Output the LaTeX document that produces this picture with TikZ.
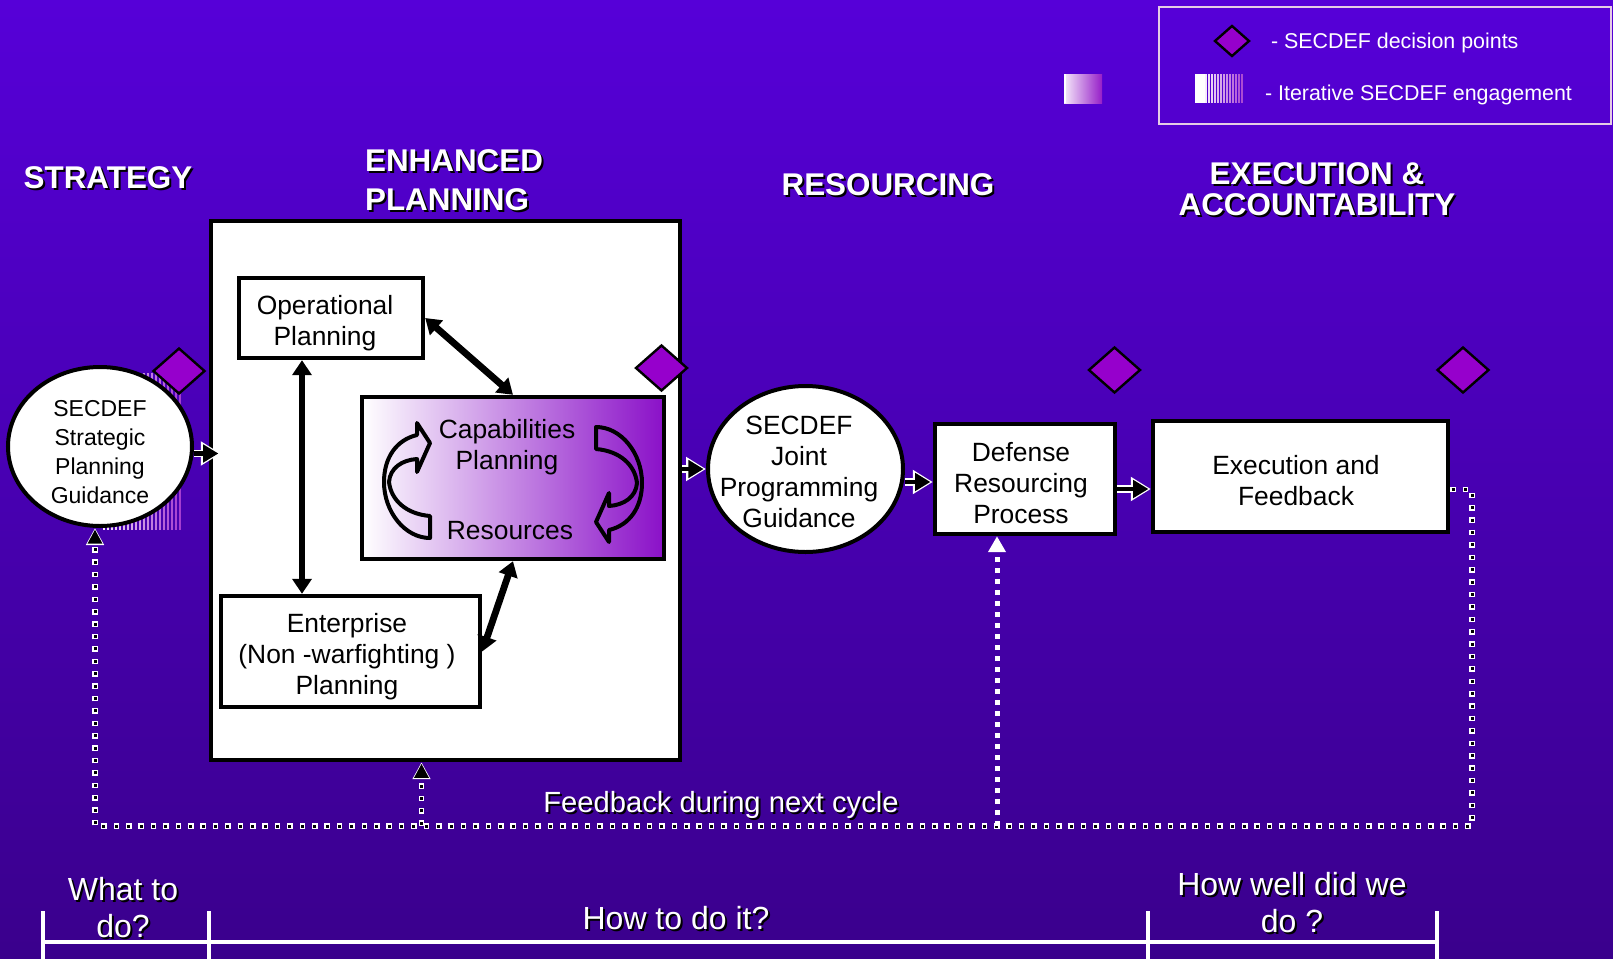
\documentclass[tikz,border=0pt]{standalone}
\usepackage{fontspec}
\setmainfont{Liberation Sans}
\usetikzlibrary{arrows.meta,calc,positioning,shapes.geometric}

\definecolor{bgtop}{RGB}{86,0,216}
\definecolor{bgmid}{RGB}{100,0,244}
\definecolor{bgbot}{RGB}{58,0,140}
\definecolor{decpurple}{RGB}{150,0,204}
\definecolor{cappurple}{RGB}{138,16,200}
\definecolor{engpurple}{RGB}{150,30,200}

% white text with a black drop shadow
\newcommand{\shnode}[4][]{%
  \node[#1,text=black,xshift=1pt,yshift=-1pt] at (#3) {#4};
  \node[#1] (#2) at (#3) {#4};}

\begin{document}
\begin{tikzpicture}[x=0.5pt,y=-0.5pt,
    box/.style={draw=black,line width=2.2pt,fill=white,inner sep=0pt},
    guide/.style={ellipse,draw=black,line width=2pt,fill=white,inner sep=0pt},
    boxtext/.style={align=center,font=\fontsize{13.2}{15.5}\selectfont},
    decision/.style={diamond,draw=black,line width=1.2pt,fill=decpurple,inner sep=0pt,
      minimum width=26pt,minimum height=23pt},
    flow/.style={draw=white,line width=3.8pt,-{Triangle[length=10pt,width=11.5pt]},
      postaction={draw=black,line width=2.4pt,shorten >=1.2pt,-{Triangle[length=7.6pt,width=8.6pt]}}},
    link/.style={draw=black,line width=3.4pt,
      {Triangle[length=7.5pt,width=9.5pt]}-{Triangle[length=7.5pt,width=9.5pt]}},
    turn/.style={draw=black,line width=2pt,line join=round},
    fbline/.style={draw=white,line width=2.8pt,dash pattern=on 2.8pt off 3.4pt,
      -{Triangle[length=8.5pt,width=8.5pt]},
      postaction={draw=black,line width=1.5pt,dash pattern=on 1.5pt off 4.7pt,dash phase=5.55pt,
        shorten >=0.8pt,-{Triangle[length=7pt,width=7pt]}}},
    fbmain/.style={draw=white,line width=2.5pt,dash pattern=on 2.5pt off 3pt,
      -{Triangle[length=8pt,width=8.5pt,fill=white]}},
    hdr/.style={text=white,align=center,font=\bfseries\fontsize{15.7}{19.5}\selectfont},
    lbl/.style={text=white,align=center,font=\fontsize{16}{18.5}\selectfont},
    fbl/.style={text=white,font=\fontsize{14.6}{17}\selectfont},
    key/.style={text=white,anchor=west,font=\fontsize{10.7}{13}\selectfont},
  ]
  \path[use as bounding box] (0,0) rectangle (1613,959);
  \shade[top color=bgtop,middle color=bgmid,bottom color=bgbot] (0,0) rectangle (1613,959);

  % legend
  \node[draw=white!80!violet,line width=0.7pt,minimum width=226pt,minimum height=58.5pt,inner sep=0pt] (legend) at (1385,65.5) {};
  \node[decision,minimum width=17.5pt,minimum height=15.5pt] (keydec) at (1232,41) {};
  \node[key] (keydectxt) at (1264,43) {- SECDEF decision points};
  \fill[white] (1195,74) rectangle (1205,103);
  \foreach \i [evaluate=\i as \pct using int(8+6*\i)] in {0,...,12}
    \draw[line width=0.8pt,engpurple!\pct!white] (1206+3*\i,74) -- (1206+3*\i,103);
  \node[key] (keyengtxt) at (1258,95) {- Iterative SECDEF engagement};
  \shade[left color=white!90!engpurple,right color=engpurple] (1064,74) rectangle (1102,103);
  \draw[white,line width=0.6pt] (1065,74) -- (1065,103);

  % phase headings
  \shnode[hdr]{strategy}{108,178}{STRATEGY}
  \shnode[hdr,align=left,anchor=west]{planning}{358,180}{ENHANCED\\PLANNING}
  \shnode[hdr]{resourcing}{888,185}{RESOURCING}
  \shnode[hdr,font=\bfseries\fontsize{15.7}{15.5}\selectfont]{execution}{1317,189.5}{EXECUTION \&\\ACCOUNTABILITY}

  % iterative engagement behind the strategic guidance
  \foreach \i [evaluate=\i as \pct using int(10+4*\i)] in {0,...,19}
    \draw[line width=0.6pt,engpurple!\pct!white] (104+4*\i,373) -- (104+4*\i,530);

  % enhanced planning
  \node[box,minimum width=234.5pt,minimum height=269.5pt] (ep) at (445.5,490.5) {};
  \node[box,minimum width=92pt,minimum height=40pt] (op) at (331,318) {};
  \node[box,minimum width=151pt,minimum height=81pt,left color=white,right color=cappurple] (cap) at (513,478) {};
  \node[box,minimum width=129.5pt,minimum height=55.5pt] (ent) at (350.5,651.5) {};
  \node[boxtext] (optxt) at (325,323) {Operational\\Planning};
  \node[boxtext] (enttxt) at (347,657) {Enterprise\\(Non -warfighting )\\Planning};
  \node[boxtext] (captxt) at (507,447) {Capabilities\\Planning};
  \node[boxtext] (restxt) at (510,531) {Resources};
  \foreach \r in {0,180}
    \draw[turn,rotate around={\r:(513,482.5)}] (430,538) -- (430,516)
      .. controls (406,514) and (391,500) .. (389,482)
      .. controls (390,468) and (402,460) .. (417,459) -- (417,472) -- (430,443) -- (417,423)
      -- (417,435) .. controls (396,440) and (384,458) .. (384,482)
      .. controls (384,512) and (405,538) .. (430,538) -- cycle;
  \coordinate (oplink) at ([xshift=-14.5pt]op.south);
  \draw[link] (oplink) -- (oplink |- ent.north);
  \draw[link] (op.east) -- (cap.north);
  \draw[link] (cap.south) -- (ent.east);

  % guidance, resourcing, execution
  \node[guide,minimum width=92pt,minimum height=79.5pt] (ssg) at (100,446.5) {};
  \node[boxtext,font=\fontsize{11.5}{14.4}\selectfont] (ssgtxt) at (100,452) {SECDEF\\Strategic\\Planning\\Guidance};
  \node[guide,minimum width=97.5pt,minimum height=83pt] (jpg) at (805.5,469) {};
  \node[boxtext] (jpgtxt) at (799,472) {SECDEF\\Joint\\Programming\\Guidance};
  \node[box,minimum width=90pt,minimum height=55pt] (drp) at (1025,479) {};
  \node[boxtext] (drptxt) at (1021,483) {Defense\\Resourcing\\Process};
  \node[box,minimum width=147.5pt,minimum height=55.5pt] (exf) at (1300.5,476.5) {};
  \node[boxtext] (exftxt) at (1296,481) {Execution and\\Feedback};

  \coordinate (ssgout) at ([yshift=-3.5pt]ssg.east);
  \draw[flow] (ssgout) -- ($(ssgout -| ep.west)+(6pt,0)$);
  \draw[flow] (ep.east |- jpg.west) -- (jpg.west);
  \coordinate (jpgout) at ([yshift=-6.5pt]jpg.east);
  \draw[flow] (jpgout) -- (jpgout -| drp.west);
  \coordinate (drpout) at ([yshift=-5pt]drp.east);
  \draw[flow] (drpout) -- (drpout -| exf.west);

  % decision points
  \node[decision] (dec1) at (179,371) {};
  \node[decision] (dec2) at (661.5,368) {};
  \node[decision] (dec3) at (1114.5,370) {};
  \node[decision] (dec4) at (1463,370) {};

  % feedback loop
  \coordinate (fbstart) at ([yshift=-6.5pt]exf.east);
  \coordinate (fbse) at (1472,826);
  \coordinate (fbsw) at (95,826);
  \draw[fbline] (fbstart) -- (fbstart -| fbse) -- (fbse) -- (fbsw) -- (fbsw |- ssg.south);
  \coordinate (fbep) at ([xshift=-12pt]ep.south);
  \draw[fbline] (fbep |- fbsw) -- (fbep);
  \coordinate (fbdrp) at ([xshift=-14pt]drp.south);
  \draw[fbmain] (fbdrp |- fbsw) -- (fbdrp);
  \shnode[fbl]{fbtxt}{721,805}{Feedback during next cycle}

  % time line
  \draw[white,line width=1.6pt] (43,942) -- (1437,942);
  \foreach \x in {43,209,1148,1437}
    \draw[white,line width=1.6pt] (\x,911) -- (\x,959);
  \shnode[lbl]{what}{123,907.5}{What to\\do?}
  \shnode[lbl]{how}{676,918}{How to do it?}
  \shnode[lbl]{howwell}{1292,902.5}{How well did we\\do ?}
\end{tikzpicture}
\end{document}
